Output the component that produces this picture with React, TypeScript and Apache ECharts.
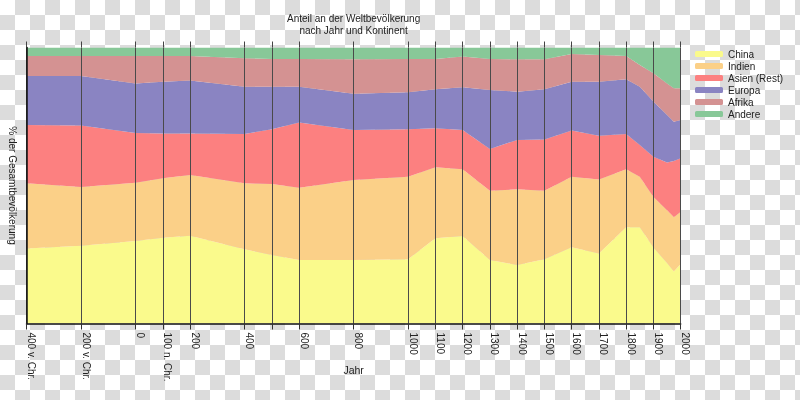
import React, { useEffect, useRef } from "react";
import * as echarts from "echarts";

const years = [-400, -200, 0, 100, 200, 400, 500, 600, 800, 1000, 1100, 1200, 1300, 1400, 1500, 1600, 1700, 1800, 1850, 1900, 1950, 1975, 2000];
const china = [27.2, 28.2, 29.9, 31.1, 31.8, 26.9, 24.8, 23.0, 23.0, 23.3, 30.9, 31.7, 23.0, 21.2, 23.3, 27.6, 25.4, 34.9, 34.9, 27.5, 21.9, 18.8, 21.6];
const indien = [23.6, 21.3, 21.1, 21.5, 22.0, 23.9, 25.7, 26.2, 29.0, 29.9, 25.7, 24.2, 25.1, 27.4, 24.8, 25.6, 26.8, 21.0, 18.3, 18.3, 19.1, 19.7, 18.9];
const asienRest = [21.1, 22.2, 18.0, 16.2, 15.0, 17.9, 19.9, 23.6, 18.1, 17.2, 14.1, 14.2, 15.1, 17.9, 18.6, 16.7, 15.8, 12.8, 11.5, 14.6, 17.3, 20.4, 19.4];
const europa = [17.8, 18.0, 18.0, 18.8, 19.2, 17.1, 15.4, 13.0, 13.1, 13.4, 14.2, 15.5, 21.4, 17.5, 18.2, 17.7, 19.6, 19.8, 21.1, 20.0, 17.2, 14.2, 13.8];
const afrika = [7.2, 7.2, 9.9, 9.3, 8.9, 10.3, 10.0, 10.0, 12.5, 12.0, 10.9, 11.1, 11.2, 11.7, 10.8, 10.0, 9.7, 8.4, 7.9, 10.3, 11.5, 12.1, 11.5];
const andere = [3.1, 3.1, 3.1, 3.1, 3.1, 3.9, 4.2, 4.2, 4.3, 4.2, 4.2, 3.3, 4.2, 4.3, 4.3, 2.4, 2.7, 3.1, 6.3, 9.3, 13.0, 14.8, 14.8];

const seriesNames = ["China", "Indien", "Asien (Rest)", "Europa", "Afrika", "Andere"];
const seriesValues = [china, indien, asienRest, europa, afrika, andere];
const seriesColors = ["#fafa8c", "#fbd088", "#fc8080", "#8a84c2", "#d49292", "#88c898"];

const tickValues = [-400, -200, 0, 100, 200, 400, 500, 600, 800, 1000, 1100, 1200, 1300, 1400, 1500, 1600, 1700, 1800, 1900, 2000];
const tickLabels = ["400 v. Chr.", "200 v. Chr.", "0", "100 n. Chr.", "200", "400", "", "600", "800", "1000", "1100", "1200", "1300", "1400", "1500", "1600", "1700", "1800", "1900", "2000"];

const titleText = "Anteil an der Weltbevölkerung\nnach Jahr und Kontinent";
const xName = "Jahr";
const yName = "% der Gesamtbevölkerung";

const FONT = "'Liberation Sans', Arial, sans-serif";

export default function App() {
  const ref = useRef<HTMLDivElement>(null);
  useEffect(() => {
    if (!ref.current) return;
    const chart = echarts.init(ref.current, null, { renderer: "svg", width: 800, height: 400 });
    const labelValues = tickValues.filter((_, i) => tickLabels[i] !== "");
    const labelFor = (v: number) => {
      const i = tickValues.indexOf(v);
      return i >= 0 ? tickLabels[i] : "";
    };
    // data columns: [share, year]; column 0 is the stacked value (y), column 1 the year (x)
    const series = seriesNames.map((name, i) => ({
      name,
      type: "line",
      stack: "total",
      data: years.map((y, j) => [seriesValues[i][j], y]),
      encode: { x: 1, y: 0 },
      showSymbol: false,
      symbol: "none",
      silent: true,
      lineStyle: { width: 0 },
      itemStyle: { color: seriesColors[i] },
      areaStyle: { color: seriesColors[i], opacity: 1 },
      z: 2,
      markLine:
        i === seriesNames.length - 1
          ? {
              silent: true,
              symbol: ["none", "none"],
              label: { show: false },
              lineStyle: { color: "#4a4a4a", width: 1, type: "solid" },
              data: tickValues.map((v) => ({ xAxis: v })),
            }
          : undefined,
    }));
    chart.setOption({
      animation: false,
      backgroundColor: "transparent",
      textStyle: { fontFamily: FONT },
      title: {
        text: titleText,
        left: 353.6,
        top: 12,
        padding: 0,
        textAlign: "center",
        textStyle: { fontSize: 10, fontWeight: "normal", color: "#222", lineHeight: 12, fontFamily: FONT },
      },
      legend: {
        orient: "vertical",
        left: 695,
        top: 48,
        padding: 0,
        itemWidth: 28,
        itemHeight: 6,
        itemGap: 0,
        icon: "roundRect",
        selectedMode: false,
        textStyle: { fontSize: 10, color: "#222", lineHeight: 12, fontFamily: FONT },
        data: seriesNames,
      },
      grid: { left: 26.5, right: 119.3, top: 47.5, bottom: 76.5, containLabel: false, outerBoundsMode: "none" },
      xAxis: [
        {
          type: "value",
          min: -400,
          max: 2000,
          position: "bottom",
          z: 10,
          name: xName,
          nameLocation: "middle",
          nameGap: 41,
          nameMoveOverlap: false,
          nameTextStyle: { fontSize: 10.5, color: "#222", fontFamily: FONT },
          axisLine: { show: true, onZero: false, lineStyle: { color: "#111", width: 1.5 } },
          axisTick: { show: true, customValues: tickValues, length: 6, lineStyle: { color: "#333", width: 1 } },
          axisLabel: {
            customValues: labelValues,
            rotate: -90,
            margin: 9,
            fontSize: 10,
            color: "#222",
            verticalAlign: "bottom",
            fontFamily: FONT,
            formatter: (v: number) => labelFor(v),
          },
          splitLine: { show: false },
        },
        {
          type: "value",
          min: -400,
          max: 2000,
          position: "top",
          axisLine: { show: false, onZero: false },
          axisTick: { show: true, customValues: tickValues, length: 6, lineStyle: { color: "#444", width: 1 } },
          axisLabel: { show: false },
          splitLine: { show: false },
        },
      ],
      yAxis: {
        type: "value",
        min: 0,
        max: 100,
        z: 10,
        name: yName,
        nameLocation: "middle",
        nameRotate: -90,
        nameGap: 9,
        nameMoveOverlap: false,
        nameTextStyle: { fontSize: 10, color: "#222", fontFamily: FONT },
        axisLine: { show: true, onZero: false, lineStyle: { color: "#111", width: 1.5 } },
        axisTick: { show: false },
        axisLabel: { show: false },
        splitLine: { show: false },
      },
      series,
    });
    return () => chart.dispose();
  }, []);
  return (
    <div
      ref={ref}
      style={{
        position: "fixed",
        left: 0,
        top: 0,
        width: 800,
        height: 400,
        background: "repeating-conic-gradient(#dcdcdc 0 25%, #ffffff 0 50%) 0 0 / 30px 30px",
      }}
    />
  );
}
